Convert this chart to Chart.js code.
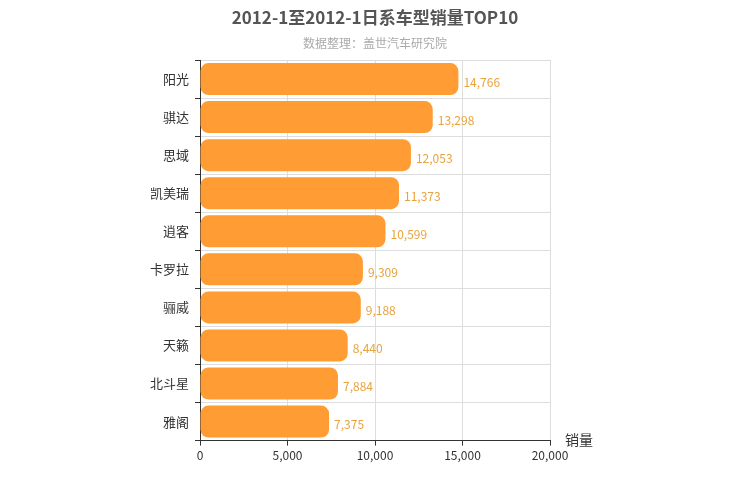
<!DOCTYPE html>
<html><head><meta charset="utf-8">
<script src="https://cdn.jsdelivr.net/npm/chart.js@4/dist/chart.umd.min.js"></script>
<style>body{margin:0;background:#fff}#w{width:750px;height:500px}</style>
</head><body><div id="w"><canvas id="c"></canvas></div>
<script>
const categories = ["阳光","骐达","思域","凯美瑞","逍客","卡罗拉","骊威","天籁","北斗星","雅阁"];
const sales = [14766,13298,12053,11373,10599,9309,9188,8440,7884,7375];
const xTicks = [0,5000,10000,15000,20000];
const titleText = '2012-1至2012-1日系车型销量TOP10';
const subtitleText = '数据整理：盖世汽车研究院';
const FONT = "'Microsoft YaHei','Noto Sans CJK SC',sans-serif";
const extras = {
  id:'extras',
  afterDatasetsDraw(chart){
    const ctx = chart.ctx, meta = chart.getDatasetMeta(0);
    ctx.save();
    ctx.textAlign = "center"; ctx.textBaseline = "middle";
    ctx.fillStyle = "#555"; ctx.font = "bold 17px " + FONT;
    ctx.fillText(titleText, 375, 18);
    ctx.fillStyle = "#aaa"; ctx.font = "12px " + FONT;
    ctx.fillText(subtitleText, 375, 43);
    ctx.font = "12px " + FONT; ctx.fillStyle = "#e8a33d";
    ctx.textAlign = "left";
    meta.data.forEach((b,i)=>{ ctx.fillText(sales[i].toLocaleString('en-US'), b.x+5, b.y+3); });
    const xs = chart.scales.x;
    ctx.fillStyle = "#333"; ctx.font = "14px " + FONT;
    ctx.fillText("销量", xs.right+15, xs.top-1);
    ctx.restore();
  }
};
new Chart(document.getElementById('c'), {
  type:'bar',
  data:{labels:categories, datasets:[{data:sales, backgroundColor:'#ff9c33', borderRadius:8, borderSkipped:false, categoryPercentage:1, barPercentage:0.84}]},
  options:{
    indexAxis:'y', responsive:true, maintainAspectRatio:false, animation:false,
    layout:{padding:{left:0,right:200,top:60,bottom:34}},
    plugins:{legend:{display:false}, tooltip:{enabled:false}},
    scales:{
      x:{min:0,max:20000,afterBuildTicks(s){s.ticks=xTicks.map(v=>({value:v}));},
        ticks:{color:'#333',font:{family:FONT,size:12},callback:v=>v.toLocaleString('en-US')},
        grid:{color:'#ddd',tickColor:'#333',tickLength:5}, border:{color:'#333'}},
      y:{afterFit(s){s.width=200;},ticks:{color:'#333',font:{family:FONT,size:13},padding:6},
        grid:{offset:true,color:'#ddd',tickLength:5,tickColor:'#333'}, border:{color:'#333'}}
    }
  },
  plugins:[extras]
});
</script></body></html>
